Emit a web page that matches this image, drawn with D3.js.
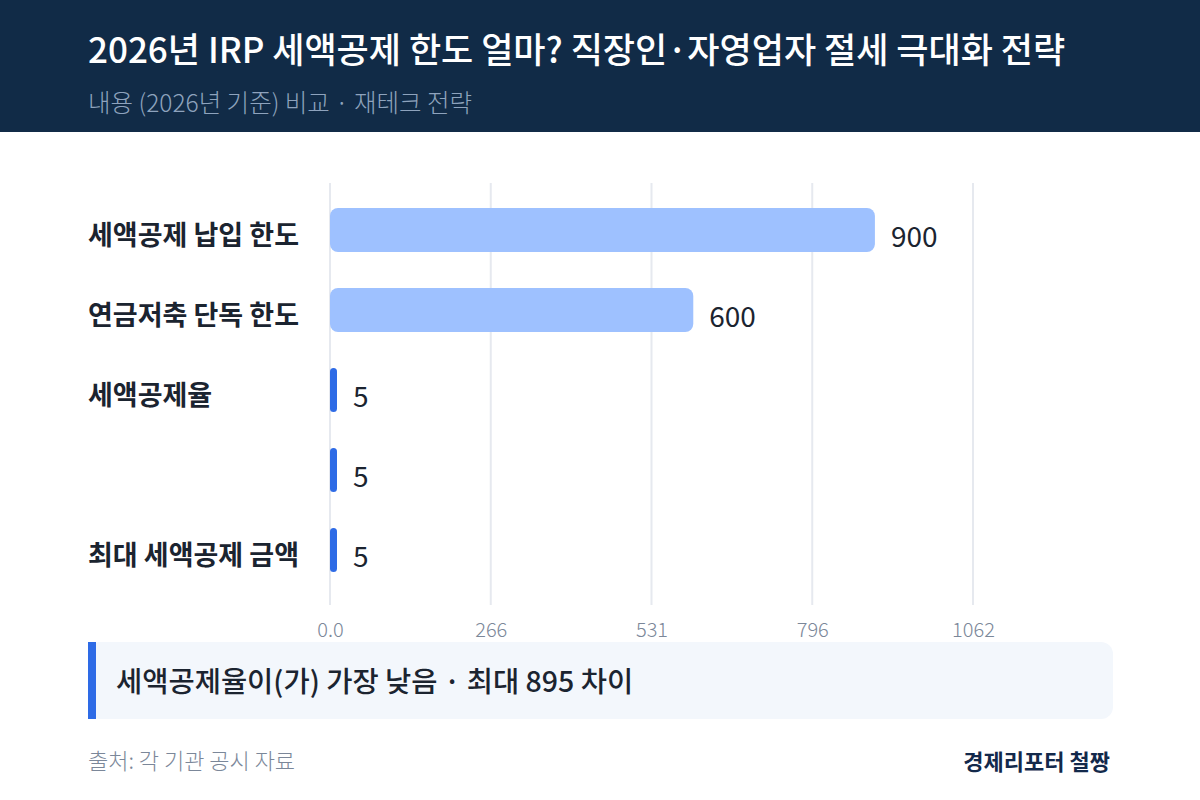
<!DOCTYPE html>
<html>
<head>
<meta charset="utf-8">
<script src="https://cdn.jsdelivr.net/npm/d3@7"></script>
<style>
  html, body { margin: 0; padding: 0; background: #fff; }
  svg { display: block; font-family: "Noto Sans CJK KR", "Noto Sans", sans-serif; }
</style>
</head>
<body>
<svg id="chart" width="1200" height="800"></svg>
<script>
// data
var categories = ["세액공제 납입 한도", "연금저축 단독 한도", "세액공제율", "", "최대 세액공제 금액"];
var values = [900, 600, 5, 5, 5];
var tickValues = [0, 265.5, 531, 796.5, 1062];
var tickLabels = ["0.0", "266", "531", "796", "1062"];

var title = "2026년 IRP 세액공제 한도 얼마? 직장인·자영업자 절세 극대화 전략";
var subtitle = "내용 (2026년 기준) 비교 · 재테크 전략";
var insight = "세액공제율이(가) 가장 낮음 · 최대 895 차이";
var source = "출처: 각 기관 공시 자료";
var brand = "경제리포터 철짱";

var svg = d3.select("#chart");

// header
svg.append("rect").attr("x", 0).attr("y", 0).attr("width", 1200).attr("height", 132).attr("fill", "#112b47");
svg.append("text").attr("x", 88).attr("y", 63)
    .attr("fill", "#ffffff").attr("font-size", 35).attr("font-weight", 500)
    .text(title);
svg.append("text").attr("x", 88).attr("y", 112)
    .attr("fill", "#8ea3bd").attr("font-size", 24.5).attr("font-weight", 300)
    .text(subtitle);

// scales
var x = d3.scaleLinear().domain([0, 1062]).range([330, 973]);
var y = d3.scalePoint().domain(d3.range(categories.length)).range([230, 550]);
var barH = 44;
var minVal = d3.min(values);

// grid
var g = svg.append("g");
g.selectAll("line.grid")
  .data(tickValues)
  .enter().append("line")
    .attr("class", "grid")
    .attr("x1", function(d){ return x(d); })
    .attr("x2", function(d){ return x(d); })
    .attr("y1", 183).attr("y2", 605)
    .attr("stroke", "#e6e9ef").attr("stroke-width", 2);

// x axis
var axis = g.append("g")
    .attr("transform", "translate(0,637)")
    .call(d3.axisBottom(x).tickValues(tickValues)
        .tickFormat(function(d, i){ return tickLabels[i]; })
        .tickSize(0).tickPadding(0));
axis.select(".domain").remove();
axis.selectAll("text")
    .attr("y", 0).attr("dy", 0)
    .attr("fill", "#7b8799").attr("font-size", 20).attr("font-weight", 300)
    .style("font-family", "'Noto Sans CJK KR', 'Noto Sans', sans-serif");

// bars
g.selectAll("rect.bar")
  .data(values)
  .enter().append("rect")
    .attr("class", "bar")
    .attr("x", x(0))
    .attr("y", function(d, i){ return y(i) - barH / 2; })
    .attr("width", function(d){ return Math.max(x(d) - x(0), 7); })
    .attr("height", barH)
    .attr("rx", function(d){ return Math.min(8, Math.max(x(d) - x(0), 7) / 2); })
    .attr("fill", function(d){ return d === minVal ? "#2e6be6" : "#9ec1ff"; });

// value labels
g.selectAll("text.val")
  .data(values)
  .enter().append("text")
    .attr("class", "val")
    .attr("x", function(d){ return x(0) + Math.max(x(d) - x(0), 7) + 16; })
    .attr("y", function(d, i){ return y(i) + 17; })
    .attr("fill", "#1b2430").attr("font-size", 28)
    .text(function(d){ return d; });

// category labels
g.selectAll("text.cat")
  .data(categories)
  .enter().append("text")
    .attr("class", "cat")
    .attr("x", 88)
    .attr("y", function(d, i){ return y(i) + 15; })
    .attr("fill", "#1b2430").attr("font-size", 27).attr("font-weight", 700)
    .text(function(d){ return d; });

// insight box
svg.append("rect").attr("x", 88).attr("y", 642).attr("width", 1025).attr("height", 77)
    .attr("rx", 12).attr("fill", "#f3f7fc");
svg.append("rect").attr("x", 88).attr("y", 642).attr("width", 8).attr("height", 77)
    .attr("fill", "#2e6be6");
svg.append("text").attr("x", 116).attr("y", 692)
    .attr("fill", "#1b2430").attr("font-size", 28.5).attr("font-weight", 500)
    .text(insight);

// footer
svg.append("text").attr("x", 88).attr("y", 769)
    .attr("fill", "#7b8799").attr("font-size", 22).attr("font-weight", 300)
    .text(source);
svg.append("text").attr("x", 1110).attr("y", 770)
    .attr("text-anchor", "end")
    .attr("fill", "#13294b").attr("font-size", 22).attr("font-weight", 700)
    .text(brand);
</script>
</body>
</html>
